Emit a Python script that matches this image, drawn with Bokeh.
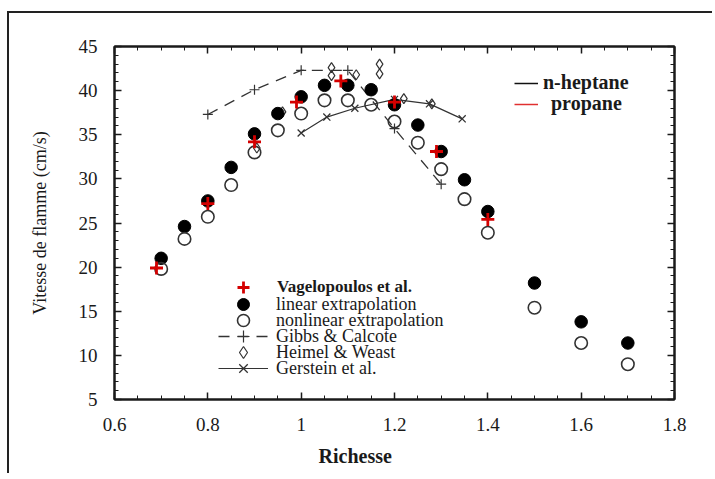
from bokeh.plotting import figure
from bokeh.models import FixedTicker, LinearAxis, Range1d, Legend, LegendItem, Title
from bokeh.embed import file_html
from bokeh.resources import INLINE

# ---- data ----
phi = [0.70, 0.75, 0.80, 0.85, 0.90, 0.95, 1.00, 1.05, 1.10, 1.15, 1.20, 1.25, 1.30, 1.35, 1.40, 1.50, 1.60, 1.70]
linear = [21.0, 24.6, 27.5, 31.3, 35.1, 37.4, 39.3, 40.6, 40.6, 40.1, 38.4, 36.1, 33.1, 29.9, 26.3, 18.2, 13.8, 11.4]
nonlinear = [19.8, 23.2, 25.7, 29.3, 33.0, 35.5, 37.4, 38.9, 38.9, 38.4, 36.5, 34.1, 31.1, 27.7, 23.9, 15.4, 11.4, 9.0]

vag_phi = [0.69, 0.80, 0.90, 0.99, 1.085, 1.20, 1.29, 1.40]
vag = [19.9, 27.2, 34.2, 38.7, 41.1, 38.7, 33.1, 25.4]

gibbs_phi = [0.80, 0.90, 1.00, 1.10, 1.20, 1.30]
gibbs = [37.3, 40.1, 42.3, 42.3, 35.7, 29.4]

heimel_phi = [0.905, 0.96, 1.065, 1.065, 1.118, 1.168, 1.168, 1.22, 1.28]
heimel = [33.5, 37.6, 42.6, 41.7, 41.8, 43.0, 41.9, 39.1, 38.5]

gerst_phi = [1.00, 1.055, 1.115, 1.20, 1.275, 1.345]
gerst = [35.2, 37.0, 38.0, 39.0, 38.5, 36.8]

x_ticks = [0.6, 0.8, 1.0, 1.2, 1.4, 1.6, 1.8]
x_tick_labels = ["0.6", "0.8", "1", "1.2", "1.4", "1.6", "1.8"]
y_ticks = [5, 10, 15, 20, 25, 30, 35, 40, 45]

SERIF = "Liberation Serif"
INK = "#1a1a1a"

p = figure(width=705, height=462, output_backend="svg", toolbar_location=None,
           x_range=Range1d(0.6, 1.8), y_range=Range1d(5, 45),
           min_border_left=105, min_border_right=40, min_border_top=33, min_border_bottom=76,
           background_fill_color="white", border_fill_color="white")
p.styles = {"border-left": "2px solid #222", "border-top": "2px solid #222", "margin-top": "5px",
            "position": "relative", "left": "7px", "top": "6px"}
p.grid.visible = False
p.outline_line_color = INK
p.outline_line_width = 2

x_minor = [round(0.6 + 0.05 * i, 3) for i in range(25)]
y_minor = list(range(5, 46))
xt = FixedTicker(ticks=x_ticks, minor_ticks=x_minor)
yt = FixedTicker(ticks=y_ticks, minor_ticks=y_minor)

bottom_ax = p.below[0]
left_ax = p.left[0]
bottom_ax.ticker = xt
left_ax.ticker = yt
bottom_ax.major_label_overrides = {t: l for t, l in zip(x_ticks, x_tick_labels)}
top_ax = LinearAxis(ticker=xt)
right_ax = LinearAxis(ticker=yt)
p.add_layout(top_ax, "above")
p.add_layout(right_ax, "right")

for ax in (bottom_ax, left_ax, top_ax, right_ax):
    ax.axis_line_color = INK
    ax.axis_line_width = 2
    ax.major_tick_in = 7
    ax.major_tick_out = 0
    ax.minor_tick_in = 4
    ax.minor_tick_out = 0
    ax.major_tick_line_color = INK
    ax.minor_tick_line_color = INK
    ax.major_tick_line_width = 1.5
    ax.major_label_text_font = SERIF
    ax.major_label_text_font_size = "19px"
    ax.major_label_text_color = INK
for ax in (top_ax, right_ax):
    ax.major_label_text_font_size = "0px"
    ax.major_label_standoff = 0

bottom_ax.major_label_standoff = 18
left_ax.major_label_standoff = 17

left_ax.axis_label = "Vitesse de flamme (cm/s)"
left_ax.axis_label_text_font = SERIF
left_ax.axis_label_text_font_style = "normal"
left_ax.axis_label_text_font_size = "18px"
left_ax.axis_label_text_color = INK
left_ax.axis_label_standoff = 26

p.add_layout(Title(text="Richesse", align="left", offset=204, text_font=SERIF, text_font_style="bold",
                   text_font_size="20px", text_color=INK, standoff=18), "below")

# ---- series ----
g_line = p.line(gibbs_phi, gibbs, line_color="#333", line_width=1.3, line_dash="11 8")
g_mark = p.scatter(gibbs_phi, gibbs, marker="cross", size=10, line_color="#333", line_width=1.2)
ge_line = p.line(gerst_phi, gerst, line_color="#333", line_width=1.2)
ge_mark = p.scatter(gerst_phi, gerst, marker="x", size=10, line_color="#333", line_width=1.3)
h_mark = p.scatter(heimel_phi, heimel, marker="diamond", size=10, line_color="#333", line_width=1.2,
                   fill_color="white", fill_alpha=0)
lin = p.scatter(phi, linear, marker="circle", size=12.5, fill_color="#000", line_color="#000")
nonlin = p.scatter(phi, nonlinear, marker="circle", size=12.5, fill_color=None, line_color="#333", line_width=1.6)
vg = p.scatter(vag_phi, vag, marker="cross", size=13, line_color="#d40000", line_width=2.8)

# dummy renderers (outside the view) for the top-right legend
hep = p.line([0, 0.1], [0, 0], line_color="#111", line_width=1.5)
pro = p.line([0, 0.1], [0, 0], line_color="#e03030", line_width=1.5)

def mk_legend(item, loc, font_size, style, glyph_w, standoff, gh):
    lg = Legend(items=[item], location=loc, background_fill_alpha=0, border_line_alpha=0,
                label_text_font=SERIF, label_text_font_size=font_size, label_text_font_style=style,
                label_text_color=INK, glyph_width=glyph_w, glyph_height=gh, label_height=16,
                label_standoff=standoff, spacing=0, padding=0, margin=0)
    p.add_layout(lg)
    return lg

# one legend per row so that rows can sit closer than the glyph boxes
mk_legend(LegendItem(label="Vagelopoulos et al.", renderers=[vg]), (104, 97), "17px", "bold", 50, 9, 30)
rows = [("linear extrapolation", [lin]),
        ("nonlinear extrapolation", [nonlin]),
        ("Gibbs & Calcote", [g_line, g_mark]),
        ("Heimel & Weast", [h_mark]),
        ("Gerstein et al.", [ge_line, ge_mark])]
row_y = [80, 64, 48, 32, 16]
for (lab, rends), yy in zip(rows, row_y):
    mk_legend(LegendItem(label=lab, renderers=rends), (104, yy), "18px", "normal", 50, 8, 30)

mk_legend(LegendItem(label="n-heptane", renderers=[hep]), (400, 305), "20px", "bold", 24, 5, 20)
mk_legend(LegendItem(label="propane", renderers=[pro]), (400, 284), "20px", "bold", 24, 13, 20)

open("out.html", "w").write(file_html(p, INLINE))
